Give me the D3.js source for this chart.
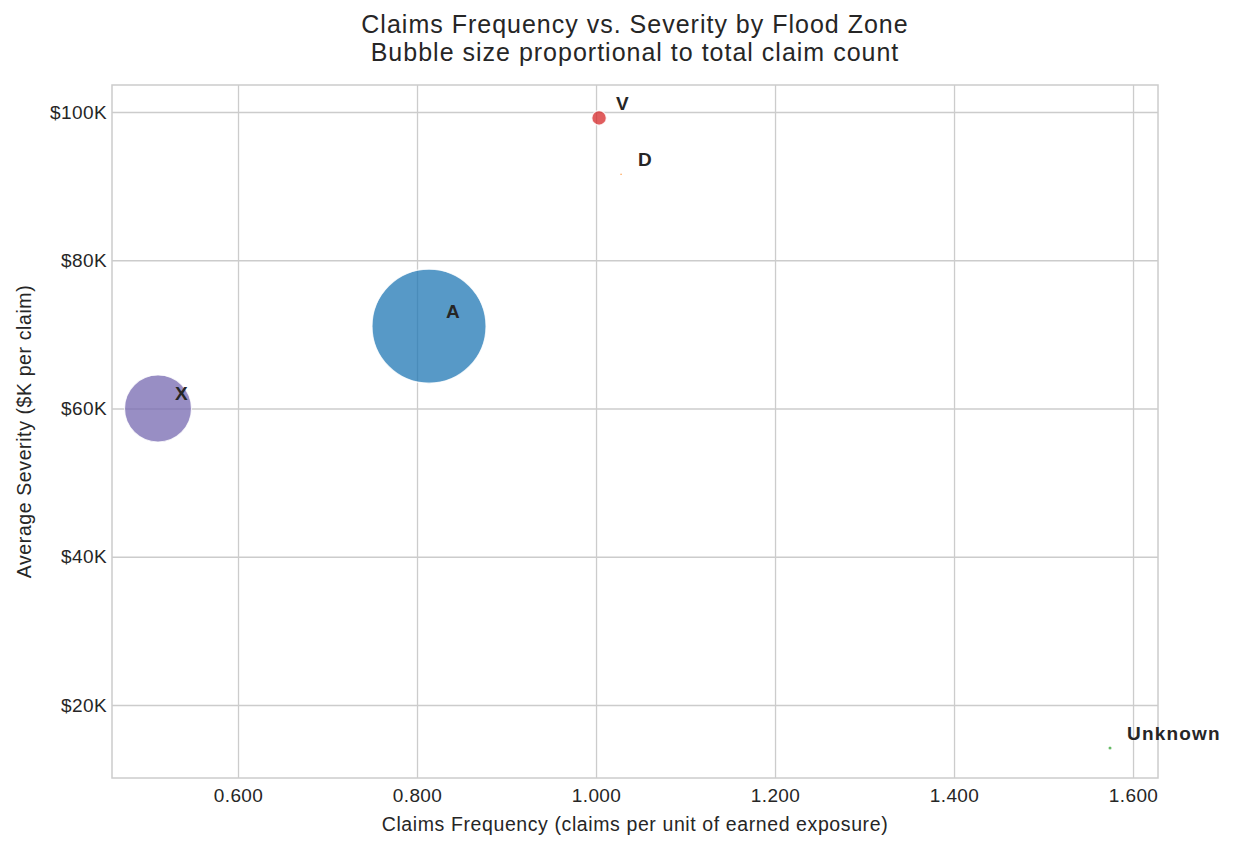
<!DOCTYPE html>
<html>
<head>
<meta charset="utf-8">
<script src="https://cdnjs.cloudflare.com/ajax/libs/d3/7.8.5/d3.min.js"></script>
<style>
	body { margin: 0; background: #fff; }
	svg text { font-family: "Liberation Sans", Arial, sans-serif; fill: #262626; }
</style>
</head>
<body>
<div id="svg-container"></div>
<script>

// DATA
const zones = ['A', 'D', 'Unknown', 'V', 'X'];
const frequency = [0.8134, 1.028, 1.5743, 1.0034, 0.5106];
const severity = [71100, 91600, 14200, 99200, 60000];
const claimCount = [13000, 3, 10, 210, 4490];
const zoneColors = ['#1f77b4', '#ff7f0e', '#2ca02c', '#d62728', '#7568b0'];

const xTicks = [0.6, 0.8, 1.0, 1.2, 1.4, 1.6];
const yTicks = [20000, 40000, 60000, 80000, 100000];

const titleLines = ['Claims Frequency vs. Severity by Flood Zone', 'Bubble size proportional to total claim count'];
const xLabel = 'Claims Frequency (claims per unit of earned exposure)';
const yLabel = 'Average Severity ($K per claim)';


// BUBBLE CHART
function graphData() {
	const w = 1235;
	const h = 848;
	const padTop = 85;
	const padBottom = 70;
	const padLeft = 112;
	const padRight = 77;

	const data = zones.map((z, i) => ({
		zone: z, freq: frequency[i], sev: severity[i], count: claimCount[i], color: zoneColors[i]
	}));

	// scales
	const xScale = d3.scaleLinear()
		.domain([0.4592, 1.6279])
		.range([padLeft, w - padRight]);
	const yScale = d3.scaleLinear()
		.domain([10150, 103640])
		.range([h - padBottom, padTop]);
	const rScale = d3.scaleSqrt()
		.domain([0, d3.max(claimCount)])
		.range([0, 57]);

	const svg = d3.select('#svg-container')
		.append('svg')
		.attr('width', w)
		.attr('height', h);

	// grid + axes
	const xAxis = d3.axisBottom(xScale)
		.tickValues(xTicks)
		.tickSize(-(h - padTop - padBottom))
		.tickPadding(11)
		.tickFormat(d3.format('.3f'));
	const yAxis = d3.axisLeft(yScale)
		.tickValues(yTicks)
		.tickSize(-(w - padLeft - padRight))
		.tickPadding(5)
		.tickFormat(d => '$' + (d / 1000) + 'K');

	const gx = svg.append('g')
		.attr('transform', `translate(0,${h - padBottom})`)
		.call(xAxis);
	const gy = svg.append('g')
		.attr('transform', `translate(${padLeft},0)`)
		.call(yAxis);

	[gx, gy].forEach(g => {
		g.select('.domain').remove();
		g.selectAll('.tick line').attr('stroke', '#cccccc').attr('stroke-width', 1.3);
		g.selectAll('.tick text')
			.style('font-size', '19px')
			.style('letter-spacing', '0.4px')
			.attr('fill', '#262626');
	});

	// frame
	svg.append('rect')
		.attr('x', padLeft)
		.attr('y', padTop)
		.attr('width', w - padLeft - padRight)
		.attr('height', h - padTop - padBottom)
		.attr('fill', 'none')
		.attr('stroke', '#cccccc')
		.attr('stroke-width', 1.5);

	// bubbles
	svg.append('g')
		.selectAll('circle')
		.data(data)
		.enter()
		.append('circle')
		.attr('cx', d => xScale(d.freq))
		.attr('cy', d => yScale(d.sev))
		.attr('r', d => rScale(d.count))
		.attr('fill', d => d.color)
		.attr('fill-opacity', 0.75)
		.attr('stroke', '#ffffff')
		.attr('stroke-opacity', 0.8)
		.attr('stroke-width', d => rScale(d.count) > 3 ? 1.2 : 0.3);

	// labels
	svg.append('g')
		.selectAll('text')
		.data(data)
		.enter()
		.append('text')
		.attr('x', d => xScale(d.freq) + 17)
		.attr('y', d => yScale(d.sev) - 15)
		.attr('dy', '0.35em')
		.style('font-size', '19px')
		.style('letter-spacing', '1.2px')
		.style('font-weight', 'bold')
		.text(d => d.zone);

	// titles
	svg.append('g')
		.selectAll('text')
		.data(titleLines)
		.enter()
		.append('text')
		.attr('x', (padLeft + w - padRight) / 2)
		.attr('y', (d, i) => 33 + i * 28)
		.attr('text-anchor', 'middle')
		.style('font-size', '25px')
		.style('letter-spacing', '1px')
		.text(d => d);

	svg.append('text')
		.attr('x', (padLeft + w - padRight) / 2)
		.attr('y', 831)
		.attr('text-anchor', 'middle')
		.style('font-size', '19.5px')
		.style('letter-spacing', '0.6px')
		.text(xLabel);

	svg.append('text')
		.attr('transform', `translate(31,${(padTop + h - padBottom) / 2}) rotate(-90)`)
		.attr('text-anchor', 'middle')
		.style('font-size', '19.5px')
		.style('letter-spacing', '0.6px')
		.text(yLabel);
}

document.addEventListener('DOMContentLoaded', () => {
	graphData();
});
</script>
</body>
</html>
